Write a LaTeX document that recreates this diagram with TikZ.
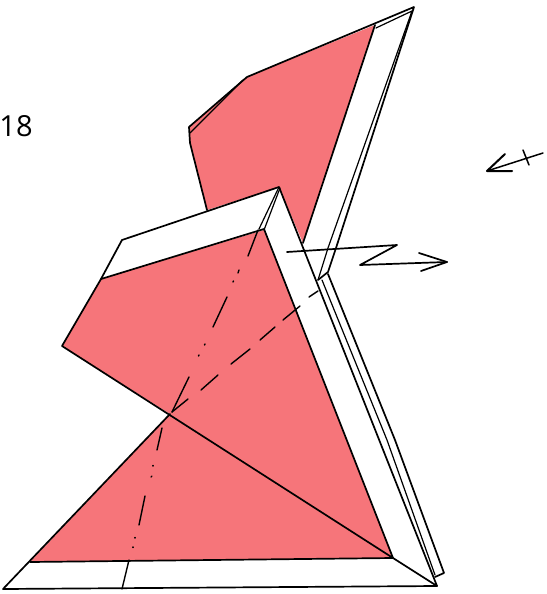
\documentclass[tikz,border=0pt]{standalone}
\usepackage{fontspec}
\setmainfont{Open Sans}
\definecolor{flap}{RGB}{246,117,122}
\tikzset{
  ink/.style={draw=black,line width=1.7pt,line cap=round,line join=round},
  thin ink/.style={draw=black,line width=1.2pt,line cap=round,line join=round},
  fold/.style={draw=black,line width=1.4pt,line cap=round},
  redfill/.style={fill=flap,draw=none}
}
\begin{document}
\begin{tikzpicture}[x=1pt,y=-1pt]
\useasboundingbox (0,0) rectangle (546,594);
% back flap
\path[redfill] (189,127) -- (247,77) -- (375,25) -- (303,243) -- (279,187) -- (207,210) -- (190,143) -- cycle;
\draw[ink] (207,210) -- (190,143) -- (189,127) -- (247,77) -- (414,7) -- (336,248) -- (328,272) -- (318,280);
\draw[thin ink] (190,133) -- (243,80);
\draw[thin ink] (376,28) -- (412,11) -- (328,248) -- (318,280);
\draw[ink] (375,25) -- (303,243);
% layers behind the front flap
\draw[thin ink] (322,280) -- (387,440) -- (435,575);
\draw[ink] (328,274) -- (395,440) -- (444,573) -- (435,577);
% front flap
\path[redfill] (101,279) -- (264,230) -- (393,558) -- (30,562) -- (170,414) -- (62,346) -- cycle;
\draw[ink] (101,279) -- (122,240) -- (279,187) -- (437,586) -- (3,589) -- (170,414);
\draw[ink] (101,279) -- (264,229) -- (393,558) -- (437,586);
\draw[ink] (101,279) -- (62,346) -- (393,558) -- (30,562);
\draw[thin ink] (279,187) -- (259,229);
\draw[thin ink] (280,188) -- (264,230);
% dash-dot fold
\foreach \a/\b in {258/230/248/256}{}
\draw[fold] (258,230) -- (248,256);
\draw[fold] (239,270) -- (238,273);
\draw[fold] (233,282) -- (233.5,281);
\draw[fold] (227,297) -- (213,327);
\draw[fold] (205,344) -- (204.5,345);
\draw[fold] (199,355) -- (198.5,356);
\draw[fold] (189,377) -- (172,412);
\draw[fold] (162,428) -- (157,450);
\draw[fold] (153,466) -- (153,465.5);
\draw[fold] (152,476) -- (151,477);
\draw[fold] (145,496) -- (139,525);
\draw[fold] (135,538) -- (135,537.5);
\draw[fold] (133,547) -- (133,547.5);
\draw[fold] (129,560) -- (122,589);
% dashed fold
\draw[fold] (172,412) -- (188,399);
\draw[fold] (201,390) -- (218,375);
\draw[fold] (231,364) -- (250,349);
\draw[fold] (260,340) -- (275,327);
\draw[fold] (283,320) -- (300,306);
\draw[fold] (309,297) -- (318,291);
% Z axis
\draw[ink] (287,252) -- (397,245) -- (360,265) -- (447,262);
\draw[ink] (419,253) -- (447,262) -- (421,271);
% X axis
\draw[ink,line width=1.5pt] (543,153) -- (487,171);
\draw[ink,line width=2pt] (505,154) -- (487,171) -- (512,171);
\draw[ink,line width=1.5pt] (523,150) -- (529,165);
% step number
\node[anchor=center,inner sep=0pt,font=\fontsize{29}{29}\selectfont] (num) at (16,126) {18};
\end{tikzpicture}
\end{document}
